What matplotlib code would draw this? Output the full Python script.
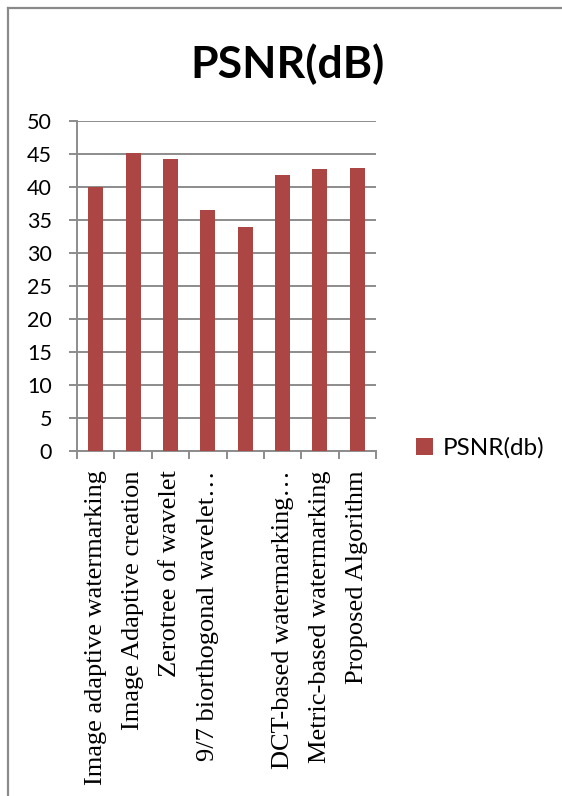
import matplotlib
matplotlib.use("Agg")
import matplotlib.pyplot as plt
from matplotlib.lines import Line2D

categories = [
    "Image adaptive watermarking",
    "Image Adaptive creation",
    "Zerotree of wavelet",
    "9/7 biorthogonal wavelet…",
    "",
    "DCT-based watermarking…",
    "Metric-based watermarking",
    "Proposed Algorithm",
]
psnr_values = [40.0, 45.1, 44.2, 36.5, 34.0, 41.8, 42.8, 42.9]
y_ticks = [0, 5, 10, 15, 20, 25, 30, 35, 40, 45, 50]
series_name = "PSNR(db)"
title_text = "PSNR(dB)"

W, H = 562, 796
fig = plt.figure(figsize=(W / 100, H / 100), dpi=100)
fig.patch.set_facecolor("white")

# chart-area frame (left and top edges visible)
frame_col = "#8a8a8a"
fig.add_artist(Line2D([8 / W, 8 / W], [0, 1 - 8 / H], transform=fig.transFigure,
                      color=frame_col, lw=1.6))
fig.add_artist(Line2D([8 / W, 1], [1 - 8 / H, 1 - 8 / H], transform=fig.transFigure,
                      color=frame_col, lw=1.6))

left, right = 77 / W, 376 / W
bottom, top = 1 - 451 / H, 1 - 121 / H
ax = fig.add_axes([left, bottom, right - left, top - bottom])

bar_col = "#AB4644"
x = list(range(len(categories)))
bars = ax.bar(x, psnr_values, width=0.4, color=bar_col, label=series_name, zorder=3)

ax.set_xlim(-0.5, len(categories) - 0.5)
ax.set_ylim(0, 50)
ax.set_yticks(y_ticks)
ax.set_yticklabels([str(v) for v in y_ticks], fontsize=15.5, family="Lato")

grid_col = "#8c8c8c"
ax.yaxis.grid(True, color=grid_col, lw=1.4, zorder=0)
ax.set_axisbelow(True)
for s in ["top", "right"]:
    ax.spines[s].set_visible(False)
for s in ["left", "bottom"]:
    ax.spines[s].set_color(grid_col)
    ax.spines[s].set_linewidth(1.4)

ax.tick_params(axis="y", length=6, width=1.4, color=grid_col, pad=12)
# category separators as tick marks on the x-axis
ax.set_xticks([i - 0.5 for i in range(len(categories) + 1)], minor=False)
ax.set_xticklabels([""] * (len(categories) + 1))
ax.tick_params(axis="x", which="major", length=6, width=1.4, color=grid_col)
ax.set_xticks(x, minor=True)
ax.set_xticklabels(categories, minor=True, rotation=90, fontsize=19,
                   family="Liberation Serif", va="top", ha="center")
ax.tick_params(axis="x", which="minor", length=0, pad=14)

fig.text(288 / W, 1 - 64 / H, title_text, ha="center", va="center",
         fontsize=32, fontweight="bold", family="Lato")

fig.legend(handles=[bars], labels=[series_name], loc="center left",
           bbox_to_anchor=(394 / W, 1 - 448 / H), frameon=False,
           handlelength=0.7, handleheight=0.7, handletextpad=0.4,
           prop={"family": "Lato", "size": 17.5})

fig.savefig("out.png", dpi=100, facecolor="white")
